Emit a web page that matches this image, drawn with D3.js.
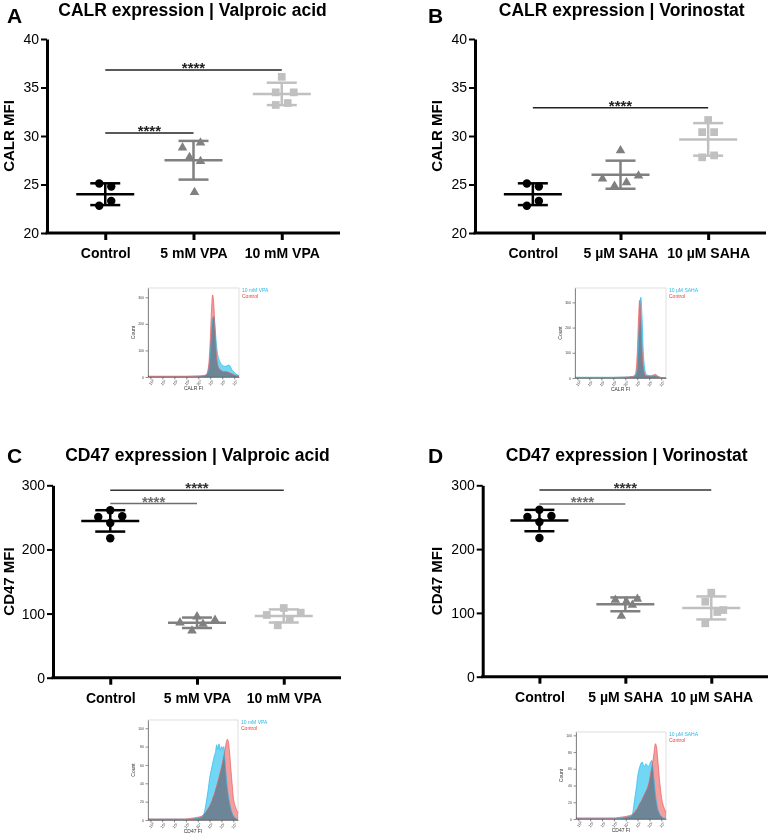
<!DOCTYPE html>
<html>
<head>
<meta charset="utf-8">
<script src="https://cdn.jsdelivr.net/npm/d3@7"></script>
<style>
  body { margin: 0; background: #fff; }
  svg { display: block; font-family: "Liberation Sans", Arial, sans-serif; }
</style>
</head>
<body>
<div id="figure"></div>
<script>
// ---- data ----
var calrVpaGroups = ["Control", "5 mM VPA", "10 mM VPA"];
var calrVpaControl = [25.1, 24.8, 23.3, 22.8];
var calrVpa5 = [28.8, 29.3, 27.8, 27.4, 24.2];
var calrVpa10 = [36.1, 34.5, 34.5, 33.2, 33.4];

var calrSahaGroups = ["Control", "5 \u00b5M SAHA", "10 \u00b5M SAHA"];
var calrSahaControl = [25.1, 24.8, 23.3, 22.8];
var calrSaha5 = [28.5, 25.6, 25.9, 25.2, 24.85];
var calrSaha10 = [31.65, 30.4, 30.4, 27.8, 28.0];

var cd47VpaGroups = ["Control", "5 mM VPA", "10 mM VPA"];
var cd47VpaControl = [261.2, 250.7, 251.8, 241.3, 217.5];
var cd47Vpa5 = [85.8, 95.2, 83.8, 90.0, 73.3];
var cd47Vpa10 = [97.8, 108.7, 101.4, 91.6, 81.7];

var cd47SahaGroups = ["Control", "5 \u00b5M SAHA", "10 \u00b5M SAHA"];
var cd47SahaControl = [261.7, 250.3, 251.9, 242.5, 217.4];
var cd47Saha5 = [120.2, 117.6, 121.8, 112.4, 95.1];
var cd47Saha10 = [131.7, 117.6, 101.4, 104.5, 83.7];

var calrTicks = [20, 25, 30, 35, 40];
var cd47Ticks = [0, 100, 200, 300];

// histogram insets (x in log10 decades, y = count)
var histDecades = [0, 1, 2, 3, 4, 5, 6, 7];

var calrVpaBins = [-0.2, 0.5, 1, 2, 3, 4, 4.5, 4.7, 4.8, 4.9, 5, 5.1, 5.2, 5.3, 5.4, 5.5, 5.6, 5.7, 5.8, 5.9, 6, 6.2, 6.4, 6.5, 6.6, 6.7, 6.8, 7, 7.2, 7.4];
var calrVpaHistControl = [2, 2, 2, 2, 2, 3, 5, 10, 25, 60, 140, 250, 309, 270, 170, 90, 50, 35, 28, 25, 22, 20, 20, 18, 16, 14, 12, 8, 5, 3];
var calrVpaHistTreated = [3, 3, 3, 3, 3, 4, 6, 10, 18, 40, 90, 170, 220, 228, 190, 130, 90, 70, 58, 50, 45, 40, 42, 45, 44, 38, 28, 18, 10, 5];

var calrSahaBins = [-0.2, 1, 2, 3, 4, 4.6, 4.8, 4.9, 5, 5.1, 5.2, 5.3, 5.4, 5.5, 5.6, 5.7, 5.8, 6, 6.2, 6.4, 6.5, 6.6, 6.8, 7, 7.4];
var calrSahaHistControl = [2, 2, 2, 2, 3, 6, 12, 30, 100, 230, 308, 230, 110, 45, 18, 10, 8, 8, 9, 13, 15, 12, 5, 2, 1];
var calrSahaHistTreated = [3, 3, 3, 3, 4, 5, 8, 15, 40, 140, 260, 320, 240, 110, 45, 20, 12, 9, 8, 9, 10, 8, 4, 2, 1];

var cd47VpaBins = [-0.2, 1, 2, 3, 3.5, 4, 4.3, 4.5, 4.7, 4.9, 5, 5.1, 5.2, 5.3, 5.4, 5.5, 5.6, 5.7, 5.8, 5.9, 6, 6.1, 6.2, 6.3, 6.4, 6.5, 6.6, 6.7, 6.8, 6.9, 7, 7.1, 7.2, 7.3, 7.4];
var cd47VpaHistControl = [1, 1, 1, 1, 2, 3, 4, 6, 9, 13, 15, 18, 21, 25, 28, 33, 37, 42, 47, 52, 57, 63, 70, 76, 84, 88, 84, 72, 55, 40, 25, 18, 14, 10, 8];
var cd47VpaHistTreated = [1, 1, 1, 1, 1, 2, 3, 6, 18, 35, 45, 52, 58, 64, 70, 74, 82, 77, 83, 76, 80, 78, 80, 65, 48, 35, 25, 18, 12, 8, 5, 3, 2, 1, 1];

var cd47SahaBins = [-0.2, 1, 2, 3, 3.5, 4, 4.3, 4.5, 4.6, 4.7, 4.8, 4.9, 5, 5.1, 5.2, 5.3, 5.4, 5.5, 5.6, 5.7, 5.8, 5.9, 6, 6.1, 6.2, 6.3, 6.4, 6.5, 6.6, 6.7, 6.8, 6.9, 7, 7.1, 7.2, 7.3, 7.4];
var cd47SahaHistControl = [1, 1, 1, 1, 2, 3, 4, 5, 6, 7, 9, 11, 13, 16, 19, 21, 24, 27, 30, 33, 36, 40, 46, 54, 62, 70, 80, 90, 86, 72, 55, 40, 28, 20, 15, 11, 8];
var cd47SahaHistTreated = [1, 1, 1, 1, 1, 2, 3, 4, 8, 18, 28, 38, 50, 58, 63, 67, 68, 64, 63, 66, 64, 62, 65, 68, 70, 60, 45, 30, 20, 12, 8, 5, 3, 2, 1, 1, 1];

// ---- layout ----
var W = 771, H = 835;
var groupColors = ["#000000", "#808080", "#c0c0c0"];
var groupShapes = [d3.symbolCircle, d3.symbolTriangle, d3.symbolSquare];
var groupSizes = [56, 40, 60];

var svg = d3.select("#figure").append("svg")
    .attr("width", W)
    .attr("height", H);

function drawPanel(p) {
    var g = svg.append("g");

    var x = d3.scalePoint()
        .domain(p.groups)
        .range([p.x0, p.x1])
        .padding(0.66);
    var y = d3.scaleLinear()
        .domain([p.ticks[0], p.ticks[p.ticks.length - 1]])
        .range([p.yBot, p.yTop]);

    // panel letter and title
    g.append("text")
        .attr("x", p.letterX).attr("y", p.letterY)
        .style("font-size", "21px").style("font-weight", "bold")
        .text(p.letter);
    g.append("text")
        .attr("x", p.titleX).attr("y", p.titleY)
        .attr("text-anchor", "middle")
        .style("font-size", "17.5px").style("font-weight", "bold")
        .text(p.title);

    // y axis
    var yAxis = g.append("g")
        .attr("transform", "translate(" + p.x0 + ",0)")
        .call(d3.axisLeft(y).tickValues(p.ticks).tickSize(6).tickSizeOuter(0).tickPadding(2));
    yAxis.select(".domain").attr("stroke-width", 3).attr("stroke", "#000");
    yAxis.selectAll(".tick line").attr("stroke-width", 2).attr("stroke", "#000");
    yAxis.selectAll(".tick text")
        .style("font-size", "14px").style("font-family", "Liberation Sans, Arial, sans-serif")
        .attr("fill", "#000");

    // x axis
    var xAxis = g.append("g")
        .attr("transform", "translate(0," + p.yBot + ")")
        .call(d3.axisBottom(x).tickSize(7).tickSizeOuter(0).tickPadding(5));
    xAxis.select(".domain").attr("stroke-width", 3).attr("stroke", "#000")
        .attr("d", "M" + (p.x0 - 1.5) + ",0H" + p.x1);
    xAxis.selectAll(".tick line").attr("stroke-width", 3).attr("stroke", "#000");
    xAxis.selectAll(".tick text")
        .attr("dy", "0.95em")
        .style("font-size", "14px").style("font-weight", "bold")
        .style("font-family", "Liberation Sans, Arial, sans-serif")
        .attr("fill", "#000");

    // y label
    g.append("text")
        .attr("transform", "translate(" + p.yLabelX + "," + ((p.yTop + p.yBot) / 2) + ") rotate(-90)")
        .attr("text-anchor", "middle")
        .style("font-size", "15px").style("font-weight", "bold")
        .text(p.yLabel);

    // points with mean and SD
    p.series.forEach(function (vals, i) {
        var cx = x(p.groups[i]);
        var m = d3.mean(vals);
        var sd = d3.deviation(vals);
        var col = groupColors[i];

        g.append("line")
            .attr("x1", cx - 29).attr("x2", cx + 29)
            .attr("y1", y(m)).attr("y2", y(m))
            .attr("stroke", col).attr("stroke-width", 2.5);
        g.append("line")
            .attr("x1", cx).attr("x2", cx)
            .attr("y1", y(m - sd)).attr("y2", y(m + sd))
            .attr("stroke", col).attr("stroke-width", 2.5);
        [m - sd, m + sd].forEach(function (v) {
            g.append("line")
                .attr("x1", cx - 15).attr("x2", cx + 15)
                .attr("y1", y(v)).attr("y2", y(v))
                .attr("stroke", col).attr("stroke-width", 2.5);
        });

        g.append("g").selectAll("path")
            .data(vals)
            .join("path")
            .attr("d", d3.symbol().type(groupShapes[i]).size(groupSizes[i]))
            .attr("transform", function (d, k) {
                return "translate(" + (cx + p.jitter[i][k]) + "," + y(d) + ")";
            })
            .attr("fill", col);
    });

    // significance bars
    p.sig.forEach(function (s) {
        var xa = x(p.groups[s.a]), xb = x(p.groups[s.b]);
        g.append("line")
            .attr("x1", xa).attr("x2", xb)
            .attr("y1", y(s.v)).attr("y2", y(s.v))
            .attr("stroke", s.color).attr("stroke-width", 1.5);
        g.append("text")
            .attr("x", (xa + xb) / 2).attr("y", y(s.v) + 3)
            .attr("text-anchor", "middle")
            .attr("fill", s.color)
            .style("font-size", "15px").style("font-weight", "bold")
            .text("****");
    });
}

function drawHist(h) {
    var g = svg.append("g");
    var x = d3.scaleLinear().domain([-0.2, 7.4]).range([h.x0, h.x1]);
    var y = d3.scaleLinear().domain([0, h.yMax]).range([h.y1, h.y0]);

    g.append("rect")
        .attr("x", h.x0).attr("y", h.y0)
        .attr("width", h.x1 - h.x0).attr("height", h.y1 - h.y0)
        .attr("fill", "none").attr("stroke", "#c8c8c8").attr("stroke-width", 0.6);

    var area = d3.area()
        .x(function (d, i) { return x(h.bins[i]); })
        .y0(y(0))
        .y1(function (d) { return y(d); })
        .curve(d3.curveMonotoneX);
    var line = d3.line()
        .x(function (d, i) { return x(h.bins[i]); })
        .y(function (d) { return y(d); })
        .curve(d3.curveMonotoneX);

    g.append("path").datum(h.treated).attr("d", area)
        .attr("fill", "#3cc8f0").attr("fill-opacity", 0.72)
        .style("mix-blend-mode", "multiply");
    g.append("path").datum(h.control).attr("d", area)
        .attr("fill", "#f07878").attr("fill-opacity", 0.72)
        .style("mix-blend-mode", "multiply");
    g.append("path").datum(h.treated).attr("d", line)
        .attr("fill", "none").attr("stroke", "#2ab8e8").attr("stroke-width", 0.7);
    g.append("path").datum(h.control).attr("d", line)
        .attr("fill", "none").attr("stroke", "#e85a5a").attr("stroke-width", 0.7);

    var xa = g.append("g").attr("transform", "translate(0," + h.y1 + ")")
        .call(d3.axisBottom(x).tickValues(histDecades).tickSize(2.5).tickSizeOuter(0)
            .tickFormat(function (d) { return "10" + "\u2070\u00b9\u00b2\u00b3\u2074\u2075\u2076\u2077"[d]; }));
    xa.select(".domain").attr("stroke", "#444").attr("stroke-width", 0.6);
    xa.selectAll(".tick line").attr("stroke", "#444").attr("stroke-width", 0.6);
    xa.selectAll(".tick text")
        .style("font-size", "4px").attr("fill", "#444")
        .attr("transform", "rotate(-50)").attr("text-anchor", "end")
        .attr("dx", "-0.3em").attr("dy", "0.6em").attr("y", 3);

    var ya = g.append("g").attr("transform", "translate(" + h.x0 + ",0)")
        .call(d3.axisLeft(y).tickValues(h.yTicks).tickSize(2.5).tickSizeOuter(0).tickPadding(1.5));
    ya.select(".domain").attr("stroke", "#444").attr("stroke-width", 0.6);
    ya.selectAll(".tick line").attr("stroke", "#444").attr("stroke-width", 0.6);
    ya.selectAll(".tick text").style("font-size", "3.5px").attr("fill", "#444");

    g.append("text")
        .attr("transform", "translate(" + (h.x0 - 13) + "," + ((h.y0 + h.y1) / 2) + ") rotate(-90)")
        .attr("text-anchor", "middle")
        .style("font-size", "5px").attr("fill", "#333")
        .text("Count");
    g.append("text")
        .attr("x", (h.x0 + h.x1) / 2).attr("y", h.y1 + 13)
        .attr("text-anchor", "middle")
        .style("font-size", "5px").attr("fill", "#333")
        .text(h.xLabel);

    g.append("text")
        .attr("x", h.x1 + 3).attr("y", h.y0 + 4)
        .style("font-size", "5px").attr("fill", "#2ab8e8")
        .text(h.treatedLabel);
    g.append("text")
        .attr("x", h.x1 + 3).attr("y", h.y0 + 10)
        .style("font-size", "5px").attr("fill", "#e83c3c")
        .text("Control");
}

drawPanel({
    letter: "A", letterX: 7, letterY: 23,
    title: "CALR expression | Valproic acid", titleX: 192.5, titleY: 16,
    yLabel: "CALR MFI", yLabelX: 13.5,
    x0: 47, x1: 340, yTop: 39, yBot: 233,
    groups: calrVpaGroups, ticks: calrTicks,
    series: [calrVpaControl, calrVpa5, calrVpa10],
    jitter: [[-6, 6, 6, -6], [-11, 7, -4, 7, 1], [0, -6, 12, -6, 6]],
    sig: [{ a: 0, b: 1, v: 30.3, color: "#222" }, { a: 0, b: 2, v: 36.8, color: "#222" }]
});

drawPanel({
    letter: "B", letterX: 428, letterY: 23,
    title: "CALR expression | Vorinostat", titleX: 621.7, titleY: 16,
    yLabel: "CALR MFI", yLabelX: 442,
    x0: 475, x1: 766, yTop: 39, yBot: 233,
    groups: calrSahaGroups, ticks: calrTicks,
    series: [calrSahaControl, calrSaha5, calrSaha10],
    jitter: [[-6, 6, 6, -6], [0, -18, 18, 6, -6], [0, -6, 6, -6, 6]],
    sig: [{ a: 0, b: 2, v: 32.9, color: "#222" }]
});

drawPanel({
    letter: "C", letterX: 7, letterY: 463.3,
    title: "CD47 expression | Valproic acid", titleX: 197.5, titleY: 460.7,
    yLabel: "CD47 MFI", yLabelX: 13.5,
    x0: 53, x1: 341, yTop: 485.3, yBot: 677.7,
    groups: cd47VpaGroups, ticks: cd47Ticks,
    series: [cd47VpaControl, cd47Vpa5, cd47Vpa10],
    jitter: [[0, -12, 12, 0, 0], [-17, 0, 6, 18, -5], [-17, 0, 17, 6, -6]],
    sig: [{ a: 0, b: 1, v: 271.5, color: "#6e6e6e" }, { a: 0, b: 2, v: 292.4, color: "#333" }]
});

drawPanel({
    letter: "D", letterX: 428, letterY: 463.3,
    title: "CD47 expression | Vorinostat", titleX: 626.7, titleY: 460.7,
    yLabel: "CD47 MFI", yLabelX: 442,
    x0: 482.7, x1: 768, yTop: 485.3, yBot: 676.7,
    groups: cd47SahaGroups, ticks: cd47Ticks,
    series: [cd47SahaControl, cd47Saha5, cd47Saha10],
    jitter: [[0, -12, 12, 0, 0], [-10, 1, 12, 7, -4], [0, -6, 6, 12, -6]],
    sig: [{ a: 0, b: 1, v: 270.7, color: "#6e6e6e" }, { a: 0, b: 2, v: 292.6, color: "#333" }]
});

drawHist({
    x0: 148, x1: 239, y0: 288, y1: 377, yMax: 335, yTicks: [0, 100, 200, 300],
    bins: calrVpaBins, control: calrVpaHistControl, treated: calrVpaHistTreated,
    xLabel: "CALR FI", treatedLabel: "10 mM VPA"
});
drawHist({
    x0: 575, x1: 666, y0: 288, y1: 378, yMax: 357, yTicks: [0, 100, 200, 300],
    bins: calrSahaBins, control: calrSahaHistControl, treated: calrSahaHistTreated,
    xLabel: "CALR FI", treatedLabel: "10 \u00b5M SAHA"
});
drawHist({
    x0: 148, x1: 238, y0: 720, y1: 820, yMax: 109, yTicks: [0, 20, 40, 60, 80, 100],
    bins: cd47VpaBins, control: cd47VpaHistControl, treated: cd47VpaHistTreated,
    xLabel: "CD47 FI", treatedLabel: "10 mM VPA"
});
drawHist({
    x0: 576, x1: 666, y0: 732, y1: 819, yMax: 104, yTicks: [0, 20, 40, 60, 80, 100],
    bins: cd47SahaBins, control: cd47SahaHistControl, treated: cd47SahaHistTreated,
    xLabel: "CD47 FI", treatedLabel: "10 \u00b5M SAHA"
});
</script>
</body>
</html>
